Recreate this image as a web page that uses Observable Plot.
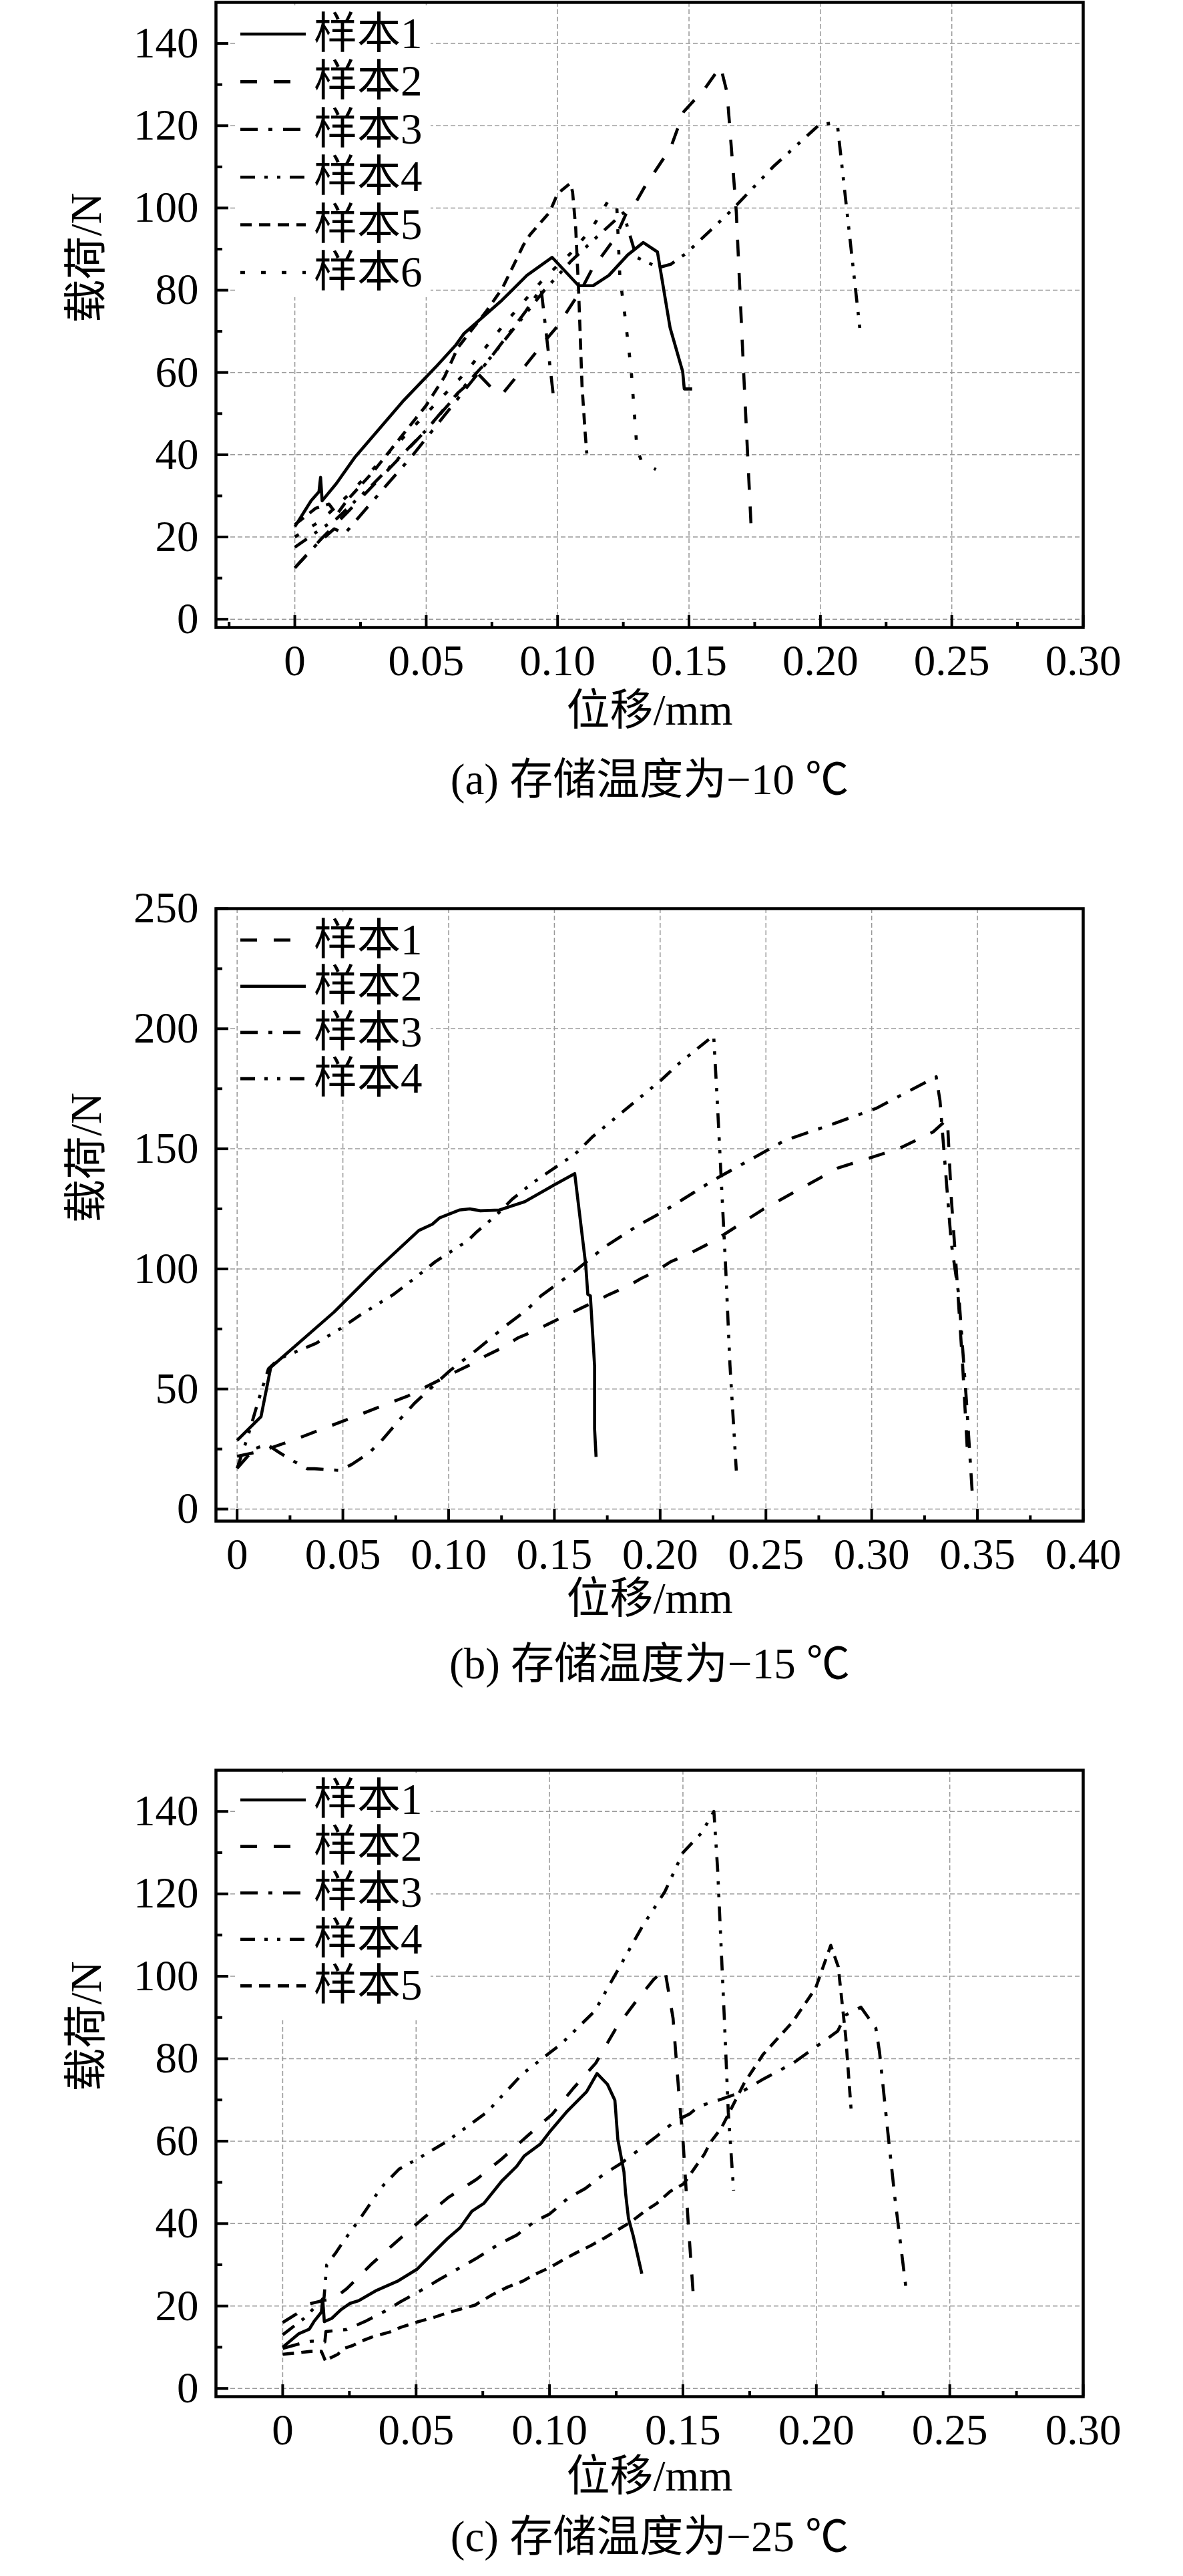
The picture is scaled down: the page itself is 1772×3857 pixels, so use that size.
<!DOCTYPE html>
<html>
<head>
<meta charset="utf-8">
<script src="https://cdn.jsdelivr.net/npm/d3@7"></script>
<script src="https://cdn.jsdelivr.net/npm/@observablehq/plot@0.6"></script>
<style>
  html, body { margin: 0; padding: 0; background: #fff; }
  #chart svg { display: block; }
</style>
</head>
<body>
<div id="chart"></div>
<script>
// ---------- tick values and labels ----------
const xTicks030 = [0, 0.05, 0.10, 0.15, 0.20, 0.25, 0.30];
const xLabels030 = ["0", "0.05", "0.10", "0.15", "0.20", "0.25", "0.30"];
const xMinorA = [-0.025, 0.025, 0.075, 0.125, 0.175, 0.225, 0.275];
const xMinorC = [0.025, 0.075, 0.125, 0.175, 0.225, 0.275];
const xTicks040 = [0, 0.05, 0.10, 0.15, 0.20, 0.25, 0.30, 0.35, 0.40];
const xLabels040 = ["0", "0.05", "0.10", "0.15", "0.20", "0.25", "0.30", "0.35", "0.40"];
const xMinorB = [0.025, 0.075, 0.125, 0.175, 0.225, 0.275, 0.325, 0.375];
const yTicks140 = [0, 20, 40, 60, 80, 100, 120, 140];
const yLabels140 = ["0", "20", "40", "60", "80", "100", "120", "140"];
const yMinor140 = [10, 30, 50, 70, 90, 110, 130];
const yTicks250 = [0, 50, 100, 150, 200, 250];
const yLabels250 = ["0", "50", "100", "150", "200", "250"];
const yMinor250 = [25, 75, 125, 175, 225];

// ---------- texts ----------
const yTitle = "载荷/N";
const xTitle = "位移/mm";
const captionA = "(a) 存储温度为−10 ℃";
const captionB = "(b) 存储温度为−15 ℃";
const captionC = "(c) 存储温度为−25 ℃";
const namesA = ["样本1", "样本2", "样本3", "样本4", "样本5", "样本6"];
const namesB = ["样本1", "样本2", "样本3", "样本4"];
const namesC = ["样本1", "样本2", "样本3", "样本4", "样本5"];

// ---------- panel (a) −10 ℃ : [displacement mm, load N] ----------
const a1 = [[0,22.5],[0.0062,28.8],[0.0092,31],[0.0098,34.5],[0.0104,28.8],[0.0158,33],[0.023,39.5],[0.041,52.9],[0.0536,61.3],[0.0613,66.7],[0.0643,69.4],[0.0787,77.5],[0.0883,83.6],[0.0979,88],[0.108,81.1],[0.1135,81.1],[0.1195,83.6],[0.1267,88.6],[0.1326,91.6],[0.138,89.3],[0.1428,70.9],[0.1476,60.2],[0.1482,56],[0.1512,56]];
const a2 = [[0,12.5],[0.01,19.5],[0.02,26],[0.035,36],[0.05,46],[0.062,55],[0.07,59.5],[0.0745,56.5],[0.079,54.8],[0.084,58.7],[0.0955,67.9],[0.1,71.3],[0.109,80.1],[0.113,85],[0.122,92.8],[0.126,98.5],[0.13,101.6],[0.133,105],[0.143,114.6],[0.148,123.4],[0.156,129],[0.162,134.4],[0.1645,128],[0.168,99],[0.1708,60],[0.1736,23],[0.1765,22.4]];
const a3 = [[0,12.5],[0.008,18],[0.015,22],[0.019,20.8],[0.03,29],[0.045,40],[0.06,52],[0.075,64],[0.088,75],[0.0937,80.5],[0.0985,53.7]];
const a4 = [[0,17.5],[0.01,22],[0.016,24.5],[0.03,33],[0.05,46],[0.065,57],[0.075,64],[0.085,72],[0.095,80],[0.105,87],[0.115,93],[0.125,98.8],[0.13,88],[0.1385,85.5],[0.143,86.3],[0.149,89],[0.166,99.3],[0.182,110],[0.1995,120.2],[0.2038,120.6],[0.2066,119.5],[0.2153,69]];
const a5 = [[0,23],[0.008,27],[0.013,28],[0.016,25.5],[0.02,29],[0.03,36],[0.04,44],[0.05,52],[0.057,59],[0.062,66],[0.073,75],[0.079,80.5],[0.087,91],[0.0895,93.5],[0.097,99],[0.1,103.5],[0.1048,106],[0.1057,103.9],[0.1069,95],[0.108,79.8],[0.1093,56.7],[0.1105,45.2],[0.1111,40.3]];
const a6 = [[0,20],[0.01,24],[0.02,30],[0.035,40],[0.05,50],[0.065,60],[0.08,72],[0.095,83],[0.105,89],[0.113,95],[0.1195,102],[0.1225,100.8],[0.1237,83.2],[0.1255,74.4],[0.128,60.6],[0.1302,41.4],[0.132,38.3],[0.1374,36.4]];

// ---------- panel (b) −15 ℃ ----------
const b1 = [[0,22],[0.008,23.5],[0.016,25.5],[0.028,29.2],[0.05,36.6],[0.081,47.2],[0.103,57],[0.11,60],[0.118,64],[0.125,67],[0.133,71.4],[0.14,74],[0.147,77],[0.154,80],[0.163,83.8],[0.169,86.3],[0.176,89.4],[0.184,92.5],[0.191,96],[0.198,99],[0.205,103],[0.213,106],[0.225,111.4],[0.2485,124.7],[0.284,142],[0.3127,150],[0.329,157],[0.3358,162.4],[0.3376,130],[0.34,100],[0.343,60],[0.3455,20]];
const b2 = [[0,28.6],[0.0113,38.5],[0.0159,59],[0.0458,82],[0.0655,99.3],[0.0859,116],[0.0923,118.6],[0.0958,121.3],[0.105,124.5],[0.11,125],[0.115,124.2],[0.124,124.5],[0.136,128],[0.149,134.5],[0.1596,139.7],[0.1648,101.8],[0.1658,89.4],[0.167,88.8],[0.169,59.6],[0.169,33.5],[0.1697,21.7]];
const b3 = [[0,17],[0.008,25],[0.014,27],[0.02,23.5],[0.0268,19.9],[0.0331,16.8],[0.0366,16.8],[0.0486,16.1],[0.0542,18.6],[0.0627,23.6],[0.069,29.2],[0.0775,37.9],[0.0838,44],[0.0937,52.1],[0.1007,57.7],[0.1134,66.4],[0.128,77],[0.1373,83.2],[0.1437,88.8],[0.16,99.3],[0.174,109.3],[0.1894,118],[0.2007,123.5],[0.209,128],[0.2253,137],[0.259,153.5],[0.2806,160],[0.302,166.8],[0.3305,180],[0.3323,170],[0.335,140],[0.3376,111],[0.3412,89],[0.3448,45],[0.3476,6]];
const b4 = [[0,17],[0.005,30],[0.01,45],[0.0148,58.4],[0.02,62.7],[0.0373,69],[0.0486,75],[0.058,80.7],[0.064,84],[0.074,89.4],[0.0838,96],[0.0937,103],[0.1035,108.6],[0.109,111.7],[0.1134,115.5],[0.1225,122.3],[0.13,129],[0.14,136],[0.15,142],[0.16,148],[0.168,155],[0.2007,178.8],[0.209,185.6],[0.2253,197.2],[0.227,170],[0.229,135],[0.231,100],[0.233,60],[0.236,16]];

// ---------- panel (c) −25 ℃ ----------
const c1 = [[0,10],[0.0061,13.3],[0.01,14.4],[0.0117,16.2],[0.0145,18.5],[0.015,21.7],[0.0156,16.2],[0.0184,17],[0.0218,19.1],[0.0251,20.6],[0.0285,21.3],[0.0352,23.8],[0.043,26],[0.0503,28.9],[0.0564,32.9],[0.062,36.5],[0.0665,39],[0.0709,43],[0.0754,44.9],[0.0821,50.3],[0.0877,53.9],[0.0905,56.4],[0.0966,59.3],[0.1,62.2],[0.1067,67.3],[0.1139,72],[0.1178,76.4],[0.1217,73.8],[0.1245,69.9],[0.1256,60.4],[0.1279,52.5],[0.1285,47.4],[0.1296,41.2],[0.1313,37.2],[0.1346,27.8]];
const c2 = [[0,16],[0.005,18],[0.01,20.5],[0.015,21.3],[0.019,21.7],[0.024,24.2],[0.033,30],[0.043,35.8],[0.0525,41.2],[0.062,46.3],[0.0726,50.7],[0.0821,55.7],[0.0916,61.2],[0.1011,66.6],[0.1089,72.8],[0.1173,78.9],[0.1251,87.6],[0.1318,93.4],[0.139,99.2],[0.1432,101.7],[0.1463,89.8],[0.1486,70.6],[0.15,60.4],[0.152,40],[0.1541,20.6]];
const c3 = [[0,9.7],[0.0061,10.8],[0.011,11.5],[0.0158,11.3],[0.0162,13.8],[0.024,14.3],[0.0307,16.2],[0.0385,18.8],[0.0441,21],[0.053,24.2],[0.0586,26.4],[0.0665,29.3],[0.0732,31.8],[0.081,35],[0.0877,37.2],[0.0944,40.5],[0.1,42.3],[0.1072,46.3],[0.1134,48.5],[0.1206,52.1],[0.1268,54.6],[0.1335,57.9],[0.1402,61.2],[0.1469,64.8],[0.1525,66.6],[0.1558,68.4],[0.1645,70.2],[0.1715,71.8],[0.18,75],[0.1912,78.9],[0.1997,82.8],[0.208,86.7],[0.211,90.6],[0.2167,92.5],[0.2223,87.4],[0.2237,81.5],[0.2266,63.3],[0.2294,46.4],[0.2336,24.3]];
const c4 = [[0,13],[0.008,17],[0.014,21],[0.0155,22],[0.0165,30],[0.02,33],[0.0229,35.8],[0.029,41.2],[0.037,48.8],[0.0436,53.2],[0.05,55.5],[0.061,59.7],[0.0765,67],[0.09,76.4],[0.1044,83.6],[0.117,91.6],[0.1347,112],[0.1432,120.5],[0.15,130],[0.157,134.8],[0.1616,140],[0.163,126],[0.1655,90],[0.167,67],[0.169,48]];
const c5 = [[0,8.3],[0.005,8.6],[0.0106,9],[0.0145,9],[0.0162,6.4],[0.0173,7.2],[0.0207,8.3],[0.0229,9.7],[0.0262,10.4],[0.0296,11.5],[0.034,12.6],[0.0402,13.7],[0.0441,14.8],[0.0508,16.2],[0.057,17.3],[0.062,18.4],[0.072,20.2],[0.0787,22.8],[0.0843,24.6],[0.0899,26],[0.0949,27.8],[0.1,29.3],[0.1056,31.4],[0.11,32.9],[0.1156,34.7],[0.1206,36.5],[0.1262,38.7],[0.1307,40.5],[0.1357,43],[0.1402,44.9],[0.1452,47.8],[0.1502,49.6],[0.1541,53.2],[0.158,56.8],[0.1603,59.7],[0.1645,63.3],[0.1729,74],[0.18,81],[0.1912,89],[0.1997,97.1],[0.2054,107.5],[0.2082,102.3],[0.211,85.4],[0.213,67.9]];

// ---------- styles ----------
const SOLID = null;
const LONG = "25,25";
const DASHDOT = "26,16,6,16";
const DASHDOTDOT = "22,14,5,14,5,14";
const SHORT = "17,11";
const DOT = "7,24";

const FONT = "'Liberation Serif', 'Noto Sans CJK SC', serif";
const FS = 65;
const W = 1772, ML = 323, MR = 150;

function panel(cfg) {
  const plotW = W - ML - MR;
  const plotH = cfg.height - cfg.marginTop - cfg.marginBottom;
  const xFmt = new Map(cfg.xTicks.map((t, i) => [t, cfg.xLabels[i]]));
  const yFmt = new Map(cfg.yTicks.map((t, i) => [t, cfg.yLabels[i]]));
  const gridStyle = {stroke: "#999", strokeOpacity: 1, strokeWidth: 1.5, strokeDasharray: "7,4"};
  const marks = [
    Plot.gridY(cfg.yTicks, gridStyle),
    Plot.gridX(cfg.xTicks, gridStyle),
    ...cfg.series.map(s => Plot.line(s.data, {
      x: d => d[0], y: d => d[1], stroke: "black", strokeWidth: 4.6,
      strokeDasharray: s.dash, strokeLinejoin: "round", strokeLinecap: "butt"
    })),
    Plot.tickY(cfg.yTicks, {y: d => d, insetRight: plotW - 19, stroke: "black", strokeWidth: 4}),
    Plot.tickY(cfg.yMinor, {y: d => d, insetRight: plotW - 10, stroke: "black", strokeWidth: 4}),
    Plot.tickX(cfg.xTicks, {x: d => d, insetTop: plotH - 18, stroke: "black", strokeWidth: 4}),
    Plot.tickX(cfg.xMinor, {x: d => d, insetTop: plotH - 8, stroke: "black", strokeWidth: 4}),
    Plot.frame({stroke: "black", strokeWidth: 4.5}),
    Plot.axisY(cfg.yTicks, {tickSize: 0, tickPadding: 26, fontSize: FS, tickFormat: d => yFmt.get(d), label: null}),
    Plot.axisX(cfg.xTicks, {tickSize: 0, tickPadding: 25, fontSize: FS, tickFormat: d => xFmt.get(d), label: null}),
    Plot.text([yTitle], {frameAnchor: "left", dx: -193, dy: 12, rotate: -90, fontSize: FS, text: d => d, fill: "black"}),
    Plot.text([xTitle], {frameAnchor: "bottom", dy: cfg.xTitleDy, fontSize: FS, text: d => d, fill: "black"}),
    Plot.text([cfg.caption], {frameAnchor: "bottom", dy: cfg.captionDy, fontSize: FS, text: d => d, fill: "black"})
  ];
  const svg = Plot.plot({
    width: W, height: cfg.height,
    marginLeft: ML, marginRight: MR, marginTop: cfg.marginTop, marginBottom: cfg.marginBottom,
    x: {type: "linear", domain: cfg.xDomain},
    y: {type: "linear", domain: cfg.yDomain},
    style: {fontFamily: FONT, background: "white", color: "black", overflow: "visible"},
    marks
  });
  // legend (white box hides the grid behind it)
  const g = d3.select(svg).append("g")
    .attr("font-family", FONT).attr("font-size", FS).attr("text-anchor", "start");
  g.append("rect").attr("x", ML + 33).attr("y", cfg.marginTop + 5)
    .attr("width", 289).attr("height", cfg.legendBoxH).attr("fill", "white");
  cfg.series.forEach((s, i) => {
    const y = cfg.marginTop + cfg.legendStart + i * cfg.legendStep;
    g.append("line").attr("x1", ML + 37).attr("x2", ML + 135).attr("y1", y).attr("y2", y)
      .attr("stroke", "black").attr("stroke-width", 4.6)
      .attr("stroke-dasharray", s.dash).attr("stroke-linecap", "butt");
    g.append("text").attr("x", ML + 147).attr("y", y + 21)
      .attr("text-anchor", "start").attr("fill", "black").text(s.name);
  });
  return svg;
}

const chart = document.getElementById("chart");

chart.appendChild(panel({
  height: 1290, marginTop: 3, marginBottom: 351,
  xDomain: [-0.03, 0.30], yDomain: [-2, 150],
  xTicks: xTicks030, xLabels: xLabels030, xMinor: xMinorA,
  yTicks: yTicks140, yLabels: yLabels140, yMinor: yMinor140,
  xTitleDy: 145, captionDy: 249, caption: captionA,
  legendStart: 48, legendStep: 71.4, legendBoxH: 437,
  series: [
    {name: namesA[0], data: a1, dash: SOLID},
    {name: namesA[1], data: a2, dash: LONG},
    {name: namesA[2], data: a3, dash: DASHDOT},
    {name: namesA[3], data: a4, dash: DASHDOTDOT},
    {name: namesA[4], data: a5, dash: SHORT},
    {name: namesA[5], data: a6, dash: DOT}
  ]
}));

chart.appendChild(panel({
  height: 1300, marginTop: 70, marginBottom: 313,
  xDomain: [-0.01, 0.40], yDomain: [-5, 250],
  xTicks: xTicks040, xLabels: xLabels040, xMinor: xMinorB,
  yTicks: yTicks250, yLabels: yLabels250, yMinor: yMinor250,
  xTitleDy: 137, captionDy: 235, caption: captionB,
  legendStart: 47.5, legendStep: 69.2, legendBoxH: 282,
  series: [
    {name: namesB[0], data: b1, dash: LONG},
    {name: namesB[1], data: b2, dash: SOLID},
    {name: namesB[2], data: b3, dash: DASHDOT},
    {name: namesB[3], data: b4, dash: DASHDOTDOT}
  ]
}));

chart.appendChild(panel({
  height: 1267, marginTop: 60, marginBottom: 269,
  xDomain: [-0.025, 0.30], yDomain: [-2, 150],
  xTicks: xTicks030, xLabels: xLabels030, xMinor: xMinorC,
  yTicks: yTicks140, yLabels: yLabels140, yMinor: yMinor140,
  xTitleDy: 140, captionDy: 231, caption: captionC,
  legendStart: 45, legendStep: 69.6, legendBoxH: 370,
  series: [
    {name: namesC[0], data: c1, dash: SOLID},
    {name: namesC[1], data: c2, dash: LONG},
    {name: namesC[2], data: c3, dash: DASHDOT},
    {name: namesC[3], data: c4, dash: DASHDOTDOT},
    {name: namesC[4], data: c5, dash: SHORT}
  ]
}));
</script>
</body>
</html>
